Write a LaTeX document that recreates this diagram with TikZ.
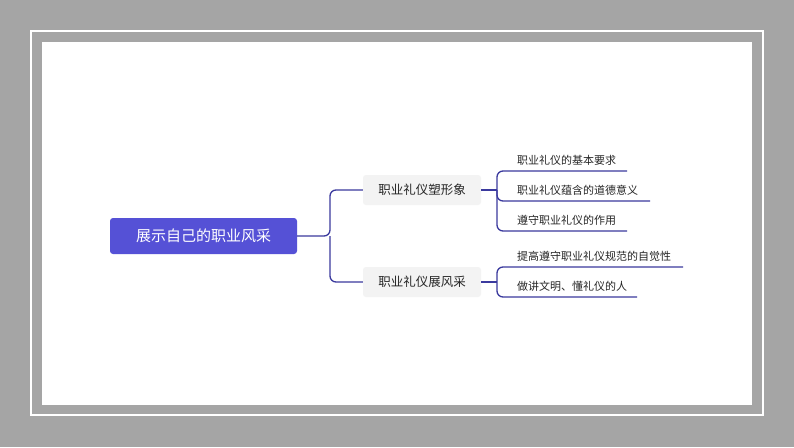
\documentclass[tikz,border=0pt]{standalone}
\usepackage{fontspec}
\setmainfont{Noto Sans CJK SC}
\definecolor{lc}{HTML}{3B3A9E}
\definecolor{midbg}{HTML}{F3F3F3}
\definecolor{rootc}{HTML}{5551D6}
\definecolor{bg}{HTML}{A5A5A5}
\begin{document}
\begin{tikzpicture}[x=1pt,y=-1pt,
 ln/.style={draw=lc,line width=1.3pt,rounded corners=6pt},
 mid/.style={fill=midbg,rounded corners=3pt,minimum width=118pt,minimum height=30pt,font=\fontsize{12.5}{14}\selectfont,text=black!85},
 leaf/.style={anchor=south west,inner sep=0pt,font=\fontsize{11}{13}\selectfont,text=black!85}]
\useasboundingbox (0,0) rectangle (794,447);
\fill[bg] (0,0) rectangle (794,447);
\draw[white,line width=1.2pt] (31,31) rectangle (763,415);
\fill[white] (42,42) rectangle (752,405);
\node[fill=rootc,rounded corners=3pt,minimum width=187pt,minimum height=36pt,text=white,font=\fontsize{15}{17}\selectfont] (root) at (203.5,236) {展示自己的职业风采};
\node[mid] (m1) at (422,190) {职业礼仪塑形象};
\node[mid] (m2) at (422,282) {职业礼仪展风采};
\coordinate (j) at (330,236);
\draw[ln] (root.east) -- (j) |- (m1.west);
\draw[ln] (j) |- (m2.west);
\node[leaf] (a1) at (517,166) {职业礼仪的基本要求};
\node[leaf] (a2) at (517,196) {职业礼仪蕴含的道德意义};
\node[leaf] (a3) at (517,226) {遵守职业礼仪的作用};
\coordinate (b1) at (497,190);
\draw[ln] (m1.east) -- (b1);
\draw[ln] (627,171) -- (497,171) -- (497,231) -- (627,231);
\draw[ln] (497,190) |- (650,201);
\node[leaf] (c1) at (517,262) {提高遵守职业礼仪规范的自觉性};
\node[leaf] (c2) at (517,292) {做讲文明、懂礼仪的人};
\coordinate (b2) at (497,282);
\draw[ln] (m2.east) -- (b2);
\draw[ln] (683,267) -- (497,267) -- (497,297) -- (637,297);
\end{tikzpicture}
\end{document}
